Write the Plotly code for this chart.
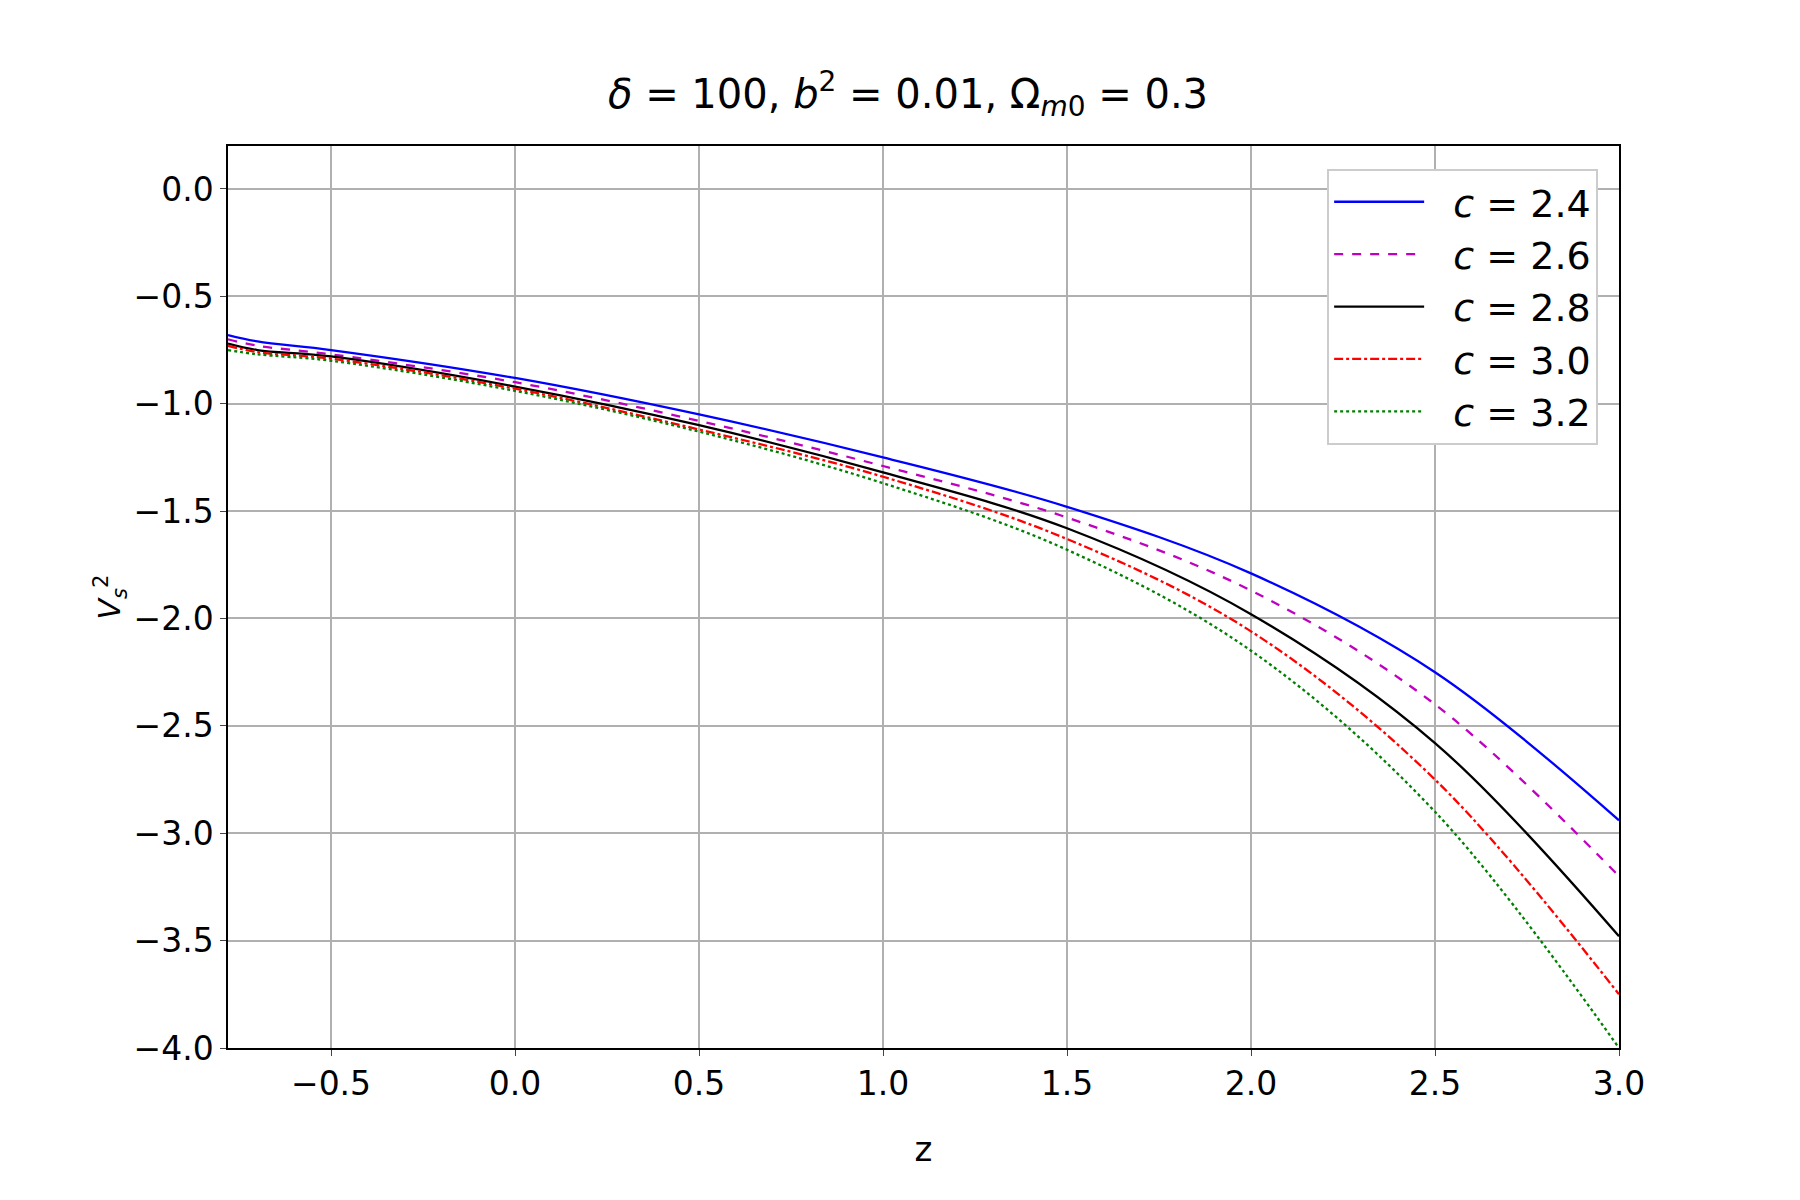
import plotly.graph_objects as go

z = [-0.78, -0.7, -0.5, 0.0, 0.5, 1.0, 1.5, 2.0, 2.5, 3.0]
v_24 = [-0.68, -0.71, -0.75, -0.88, -1.05, -1.25, -1.48, -1.79, -2.25, -2.94]
v_26 = [-0.70, -0.73, -0.77, -0.90, -1.08, -1.29, -1.53, -1.87, -2.40, -3.20]
v_28 = [-0.72, -0.75, -0.78, -0.92, -1.10, -1.32, -1.58, -1.98, -2.58, -3.48]
v_30 = [-0.73, -0.76, -0.79, -0.93, -1.12, -1.34, -1.63, -2.06, -2.75, -3.75]
v_32 = [-0.75, -0.77, -0.80, -0.94, -1.13, -1.37, -1.68, -2.15, -2.90, -4.00]

series = [
    ("2.4", v_24, "blue", "solid"),
    ("2.6", v_26, "#bf00bf", "dash"),
    ("2.8", v_28, "black", "solid"),
    ("3.0", v_30, "red", "dashdot"),
    ("3.2", v_32, "green", "dot"),
]

fig = go.Figure()
for c, v, col, dash in series:
    fig.add_trace(go.Scatter(
        x=z, y=v, mode="lines", line_shape="spline",
        line=dict(color=col, width=2.3, dash=dash),
        name=f"  <i>c</i> = {c}",
    ))

ax = dict(showline=True, linecolor="black", linewidth=1.5, mirror=True,
          showgrid=True, gridcolor="#b0b0b0", gridwidth=1.5, zeroline=False,
          ticks="outside", ticklen=6, tickfont=dict(size=33))
fig.update_layout(
    width=1800, height=1200, template="none",
    paper_bgcolor="white", plot_bgcolor="white",
    font=dict(family="DejaVu Sans", color="black", size=30),
    title=dict(text="<i>δ</i> = 100, <i>b</i><sup>2</sup> = 0.01, Ω<sub><i>m</i>0</sub> = 0.3",
               x=0.5, xanchor="center", y=0.94, font=dict(size=40)),
    margin=dict(l=220, r=189, t=138, b=160),
    xaxis=dict(ax, range=[-0.78, 3.0], dtick=0.5, tickformat=".1f",
               title=dict(text="z", font=dict(size=34))),
    yaxis=dict(ax, range=[-4.0, 0.2], tickvals=[0, -0.5, -1, -1.5, -2, -2.5, -3, -3.5, -4],
               ticktext=["0.0", "−0.5", "−1.0", "−1.5", "−2.0", "−2.5", "−3.0", "−3.5", "−4.0"],
               title=dict(text="<i>V</i><sub><i>s</i></sub><sup>2</sup>", font=dict(size=30))),
    legend=dict(x=0.985, y=0.975, xanchor="right", yanchor="top",
                bgcolor="white", bordercolor="#cccccc", borderwidth=2,
                itemwidth=90, font=dict(size=38)),
)
fig.write_html("out.html")
